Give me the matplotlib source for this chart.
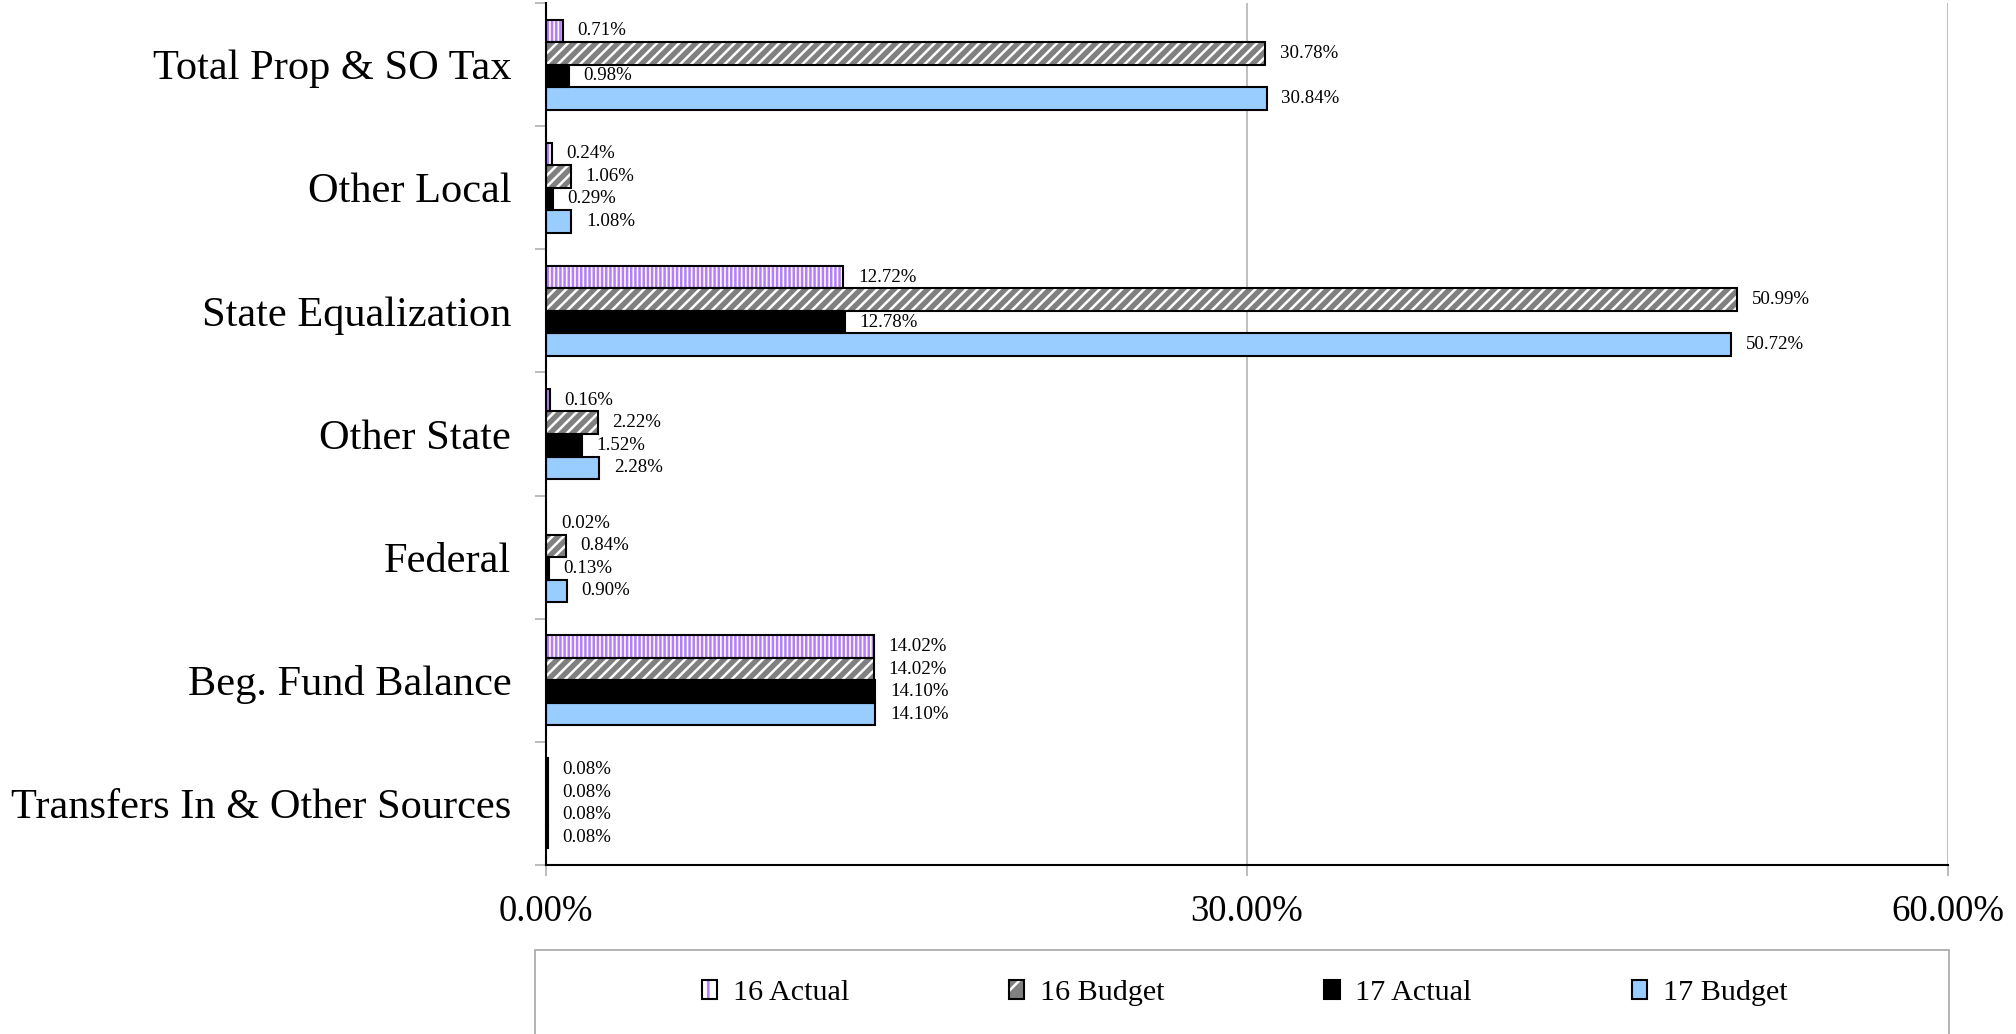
import matplotlib
matplotlib.use("Agg")
import matplotlib.pyplot as plt
import numpy as np
from matplotlib.patches import Patch, Rectangle
from matplotlib.legend_handler import HandlerTuple

# Revenue sources and their share of total revenue (%)
categories = ["Total Prop & SO Tax", "Other Local", "State Equalization",
              "Other State", "Federal", "Beg. Fund Balance",
              "Transfers In & Other Sources"]
series_names = ["16 Actual", "16 Budget", "17 Actual", "17 Budget"]
actual_16 = [0.71, 0.24, 12.72, 0.16, 0.02, 14.02, 0.08]
budget_16 = [30.78, 1.06, 50.99, 2.22, 0.84, 14.02, 0.08]
actual_17 = [0.98, 0.29, 12.78, 1.52, 0.13, 14.10, 0.08]
budget_17 = [30.84, 1.08, 50.72, 2.28, 0.90, 14.10, 0.08]
x_ticks = [0, 30, 60]
x_tick_labels = ["0.00%", "30.00%", "60.00%"]

plt.rcParams['font.family'] = ['Liberation Serif', 'DejaVu Serif']
plt.rcParams['hatch.linewidth'] = 1.8

W, H = 2016, 1034
fig = plt.figure(figsize=(W / 100, H / 100), dpi=100)
ax = fig.add_axes([546 / W, 1 - 865 / H, (1948 - 546) / W, (865 - 3) / H])

series = [actual_16, budget_16, actual_17, budget_17]
# fill colour, hatch colour, hatch pattern for each series
styles = [
    ("white", "#B57CFF", "||||"),
    ("#808080", "white", "///"),
    ("black", "black", None),
    ("#99CCFF", "#99CCFF", None),
]
legend_hatch = ["|", "/", None, None]

y = np.arange(len(categories))
h = 0.183
offsets = (np.arange(4) - 1.5) * h

handles = []
for vals, (face, hcol, hatch), off, lh in zip(series, styles, offsets, legend_hatch):
    ypos = y + off
    ax.barh(ypos, vals, height=h, color=face, edgecolor=hcol, linewidth=0,
            hatch=hatch, zorder=2)
    ax.barh(ypos, vals, height=h, fill=False, edgecolor="black",
            linewidth=1.5, zorder=3)
    for v, yy in zip(vals, ypos):
        ax.annotate(f"{v:.2f}%", xy=(v, yy), xytext=(10.5, 0),
                    textcoords="offset points", ha="left", va="center",
                    fontsize=13.6)
    handles.append((Patch(facecolor=face, edgecolor=hcol, linewidth=0, hatch=lh),
                    Patch(fill=False, edgecolor="black", linewidth=1.5)))

ax.set_xlim(0, 60)
ax.set_ylim(len(categories) - 0.5, -0.5)

# category boundaries carry the tick marks, centres carry the labels
bounds = np.arange(-0.5, len(categories), 1.0)
ax.set_yticks(bounds, labels=[""] * len(bounds))
ax.set_yticks(y, labels=categories, minor=True)
ax.tick_params(axis="y", which="major", length=8, width=1.2, color="#B0B0B0")
ax.tick_params(axis="y", which="minor", length=0, pad=25, labelsize=30.5)

ax.set_xticks(x_ticks, labels=x_tick_labels)
ax.tick_params(axis="x", which="major", length=8, width=1.2, color="#B0B0B0",
               pad=13, labelsize=26.5)

ax.grid(axis="x", color="#B4B4B4", linewidth=1.2, zorder=0)
ax.set_axisbelow(True)
for side in ("top", "right"):
    ax.spines[side].set_visible(False)
for side in ("left", "bottom"):
    ax.spines[side].set_linewidth(1.5)
    ax.spines[side].set_color("black")
    ax.spines[side].set_zorder(4)

# legend strip along the bottom
fig.add_artist(Rectangle((535 / W, -0.05), (1949 - 535) / W, 0.05 + 1 - 950 / H,
                         transform=fig.transFigure, fill=False,
                         edgecolor="#A6A6A6", linewidth=1.2))
fig.legend(handles, series_names, loc="center left",
           bbox_to_anchor=(702 / W, 1 - 993 / H), ncol=4, frameon=False,
           fontsize=21.7, handlelength=0.5, handleheight=0.57,
           handletextpad=0.53, columnspacing=5.3, borderpad=0,
           borderaxespad=0, handler_map={tuple: HandlerTuple(ndivide=1)})

fig.savefig("out.png", dpi=100)
